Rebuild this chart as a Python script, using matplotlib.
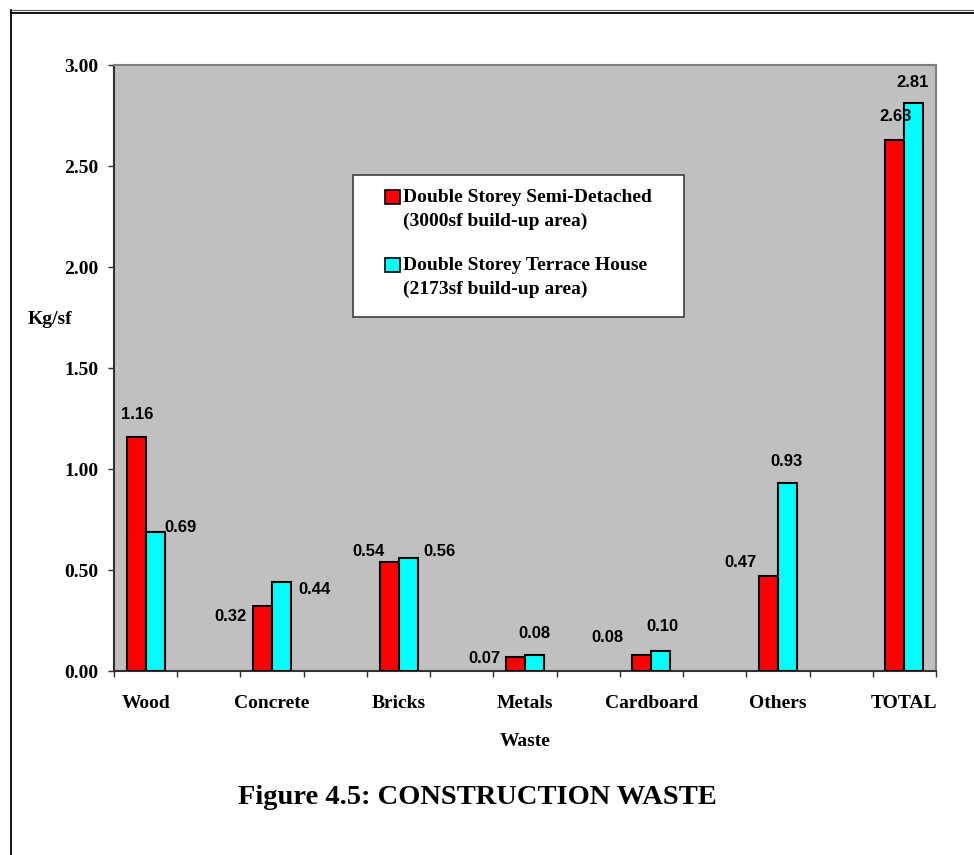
import matplotlib
matplotlib.use("Agg")
import matplotlib.pyplot as plt
from matplotlib.lines import Line2D
from matplotlib.patches import Rectangle
import numpy as np

categories = ["Wood", "Concrete", "Bricks", "Metals", "Cardboard", "Others", "TOTAL"]
semi_detached = [1.16, 0.32, 0.54, 0.07, 0.08, 0.47, 2.63]
terrace_house = [0.69, 0.44, 0.56, 0.08, 0.10, 0.93, 2.81]
series_names = [
    ("Double Storey Semi-Detached", "(3000sf build-up area)"),
    ("Double Storey Terrace House", "(2173sf build-up area)"),
]
y_ticks = [0.0, 0.5, 1.0, 1.5, 2.0, 2.5, 3.0]

# label offsets (pixels) from the top centre of each bar
semi_offsets = [(1, 22), (-32, -10), (-21, 10), (-31, -2), (-35, 17), (-28, 14), (1, 23)]
terrace_offsets = [(25, 4), (33, -7), (31, 6), (0, 21), (1, 24), (-1, 22), (-1, 21)]

W, H = 974, 855
SERIF = "Liberation Serif"
SANS = "Liberation Sans"
RED = "#FF0000"
CYAN = "#00FFFF"

fig = plt.figure(figsize=(W / 100, H / 100), dpi=100)
ax = fig.add_axes([114 / W, 1 - 671 / H, (936 - 114) / W, (671 - 65) / H])
ax.set_facecolor("#C0C0C0")

# categories sit on every other slot, 13 slots in all
x = np.arange(len(categories)) * 2
bw = 0.3
bars_a = ax.bar(x - bw / 2, semi_detached, bw, color=RED, edgecolor="black", linewidth=1.5, zorder=3)
bars_b = ax.bar(x + bw / 2, terrace_house, bw, color=CYAN, edgecolor="black", linewidth=1.5, zorder=3)

for bars, vals, offs in [(bars_a, semi_detached, semi_offsets), (bars_b, terrace_house, terrace_offsets)]:
    for b, v, (dx, dy) in zip(bars, vals, offs):
        ax.annotate(f"{v:.2f}", (b.get_x() + b.get_width() / 2, v), xytext=(dx, dy),
                    textcoords="offset pixels", ha="center", va="center",
                    fontfamily=SANS, fontweight="bold", fontsize=12, zorder=5)

ax.set_xlim(-0.5, 12.5)
ax.set_ylim(0, 3)
ax.set_yticks(y_ticks)
ax.set_yticklabels([f"{t:.2f}" for t in y_ticks], fontfamily=SERIF, fontweight="bold", fontsize=14)
ax.tick_params(axis="y", direction="out", length=4.3, width=1, pad=7, color="#303030")

ax.set_xticks(np.arange(-0.5, 13, 1))
ax.set_xticklabels([])
ax.tick_params(axis="x", which="major", direction="out", length=4.3, width=1, color="#303030")
ax.set_xticks(x, minor=True)
ax.set_xticklabels(categories, minor=True, fontfamily=SERIF, fontweight="bold", fontsize=14)
ax.tick_params(axis="x", which="minor", length=0, pad=17)

for side in ["left", "bottom"]:
    ax.spines[side].set_color("#303030")
    ax.spines[side].set_linewidth(1.5)
for side in ["top", "right"]:
    ax.spines[side].set_color("#808080")
    ax.spines[side].set_linewidth(1.5)

ax.set_ylabel("Kg/sf", rotation=0, ha="left", va="center", fontfamily=SERIF, fontweight="bold", fontsize=14)
ax.yaxis.set_label_coords((28 - 114) / 822, (671 - 319) / 606)
ax.set_xlabel("Waste", va="center", fontfamily=SERIF, fontweight="bold", fontsize=14)
ax.xaxis.set_label_coords(0.5, (671 - 741) / 606)

# legend box, drawn by hand so the swatch lines up with the first text line
def ax_xy(px, py):
    return (px - 114) / 822, (671 - py) / 606

bx0, by0 = ax_xy(353, 317)
bx1, by1 = ax_xy(684, 175)
ax.add_patch(Rectangle((bx0, by0), bx1 - bx0, by1 - by0, transform=ax.transAxes,
                       facecolor="white", edgecolor="#404040", linewidth=1.2, zorder=6))
for (line1, line2), color, top in [(series_names[0], RED, 197), (series_names[1], CYAN, 265)]:
    sx0, sy0 = ax_xy(385, top + 7)
    sx1, sy1 = ax_xy(400, top - 7)
    ax.add_patch(Rectangle((sx0, sy0), sx1 - sx0, sy1 - sy0, transform=ax.transAxes,
                           facecolor=color, edgecolor="black", linewidth=1.2, zorder=7))
    for txt, py in [(line1, top), (line2, top + 24)]:
        tx, ty = ax_xy(403, py)
        ax.text(tx, ty, txt, transform=ax.transAxes, ha="left", va="center",
                fontfamily=SERIF, fontweight="bold", fontsize=14, zorder=7)

fig.text(477 / W, 1 - 797 / H, "Figure 4.5: CONSTRUCTION WASTE", ha="center", va="center",
         fontfamily=SERIF, fontweight="bold", fontsize=20.5)

# page frame: double rule on top, single rule on the left
fig.add_artist(Line2D([10 / W, 1], [1 - 10 / H, 1 - 10 / H], transform=fig.transFigure, color="#606060", linewidth=0.9))
fig.add_artist(Line2D([11 / W, 1], [1 - 13 / H, 1 - 13 / H], transform=fig.transFigure, color="black", linewidth=1.3))
fig.add_artist(Line2D([11 / W, 11 / W], [1 - 10 / H, 0], transform=fig.transFigure, color="black", linewidth=1.3))

fig.savefig("out.png", dpi=100)
plt.close()
